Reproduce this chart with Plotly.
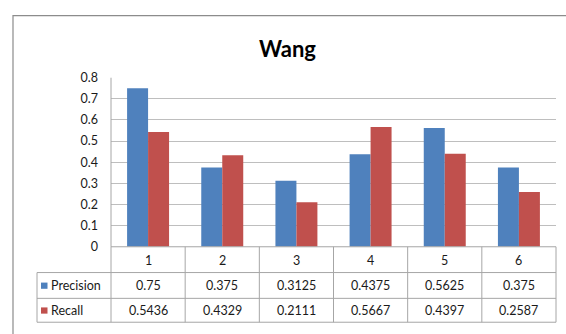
import plotly.graph_objects as go

# Data
categories = ["1", "2", "3", "4", "5", "6"]
precision = [0.75, 0.375, 0.3125, 0.4375, 0.5625, 0.375]
recall = [0.5436, 0.4329, 0.2111, 0.5667, 0.4397, 0.2587]
series_names = ["Precision", "Recall"]
y_ticks = [0, 0.1, 0.2, 0.3, 0.4, 0.5, 0.6, 0.7, 0.8]

W, H = 566, 334
BLUE = "#4F81BD"
RED = "#C0504D"
GRID = "#BEBEBE"
BORDER = "#A6A6A6"
FONT = "Lato, Carlito, 'Open Sans', sans-serif"
TXT = "#1a1a1a"

# Pixel layout of the plot region and the data table below it
px_left, px_right = 111, 556
px_top, px_zero = 73, 250
row_lines = [250, 277, 304, 329]
legend_left = 37


def fx(px):
    return px / W


def fy(py):
    return 1 - py / H


fig = go.Figure()
fig.add_trace(go.Bar(x=categories, y=precision, name=series_names[0],
                     marker=dict(color=BLUE, line=dict(width=0))))
fig.add_trace(go.Bar(x=categories, y=recall, name=series_names[1],
                     marker=dict(color=RED, line=dict(width=0))))

shapes = []
# Outer chart frame
shapes.append(dict(type="rect", xref="paper", yref="paper",
                   x0=fx(13), x1=fx(W + 20), y0=fy(H + 20), y1=fy(8),
                   line=dict(color="#8C8C8C", width=1.2), fillcolor="rgba(0,0,0,0)"))

ncat = len(categories)
col_w = (px_right - px_left) / ncat
col_edges = [px_left + i * col_w for i in range(ncat + 1)]

line_style = dict(color=BORDER, width=1)
# Horizontal table lines
shapes.append(dict(type="line", xref="paper", yref="paper",
                   x0=fx(px_left), x1=fx(px_right), y0=fy(row_lines[0]), y1=fy(row_lines[0]),
                   line=line_style))
for r in row_lines[1:]:
    shapes.append(dict(type="line", xref="paper", yref="paper",
                       x0=fx(legend_left), x1=fx(px_right), y0=fy(r), y1=fy(r),
                       line=line_style))
# Vertical table lines
shapes.append(dict(type="line", xref="paper", yref="paper",
                   x0=fx(legend_left), x1=fx(legend_left), y0=fy(row_lines[1]), y1=fy(row_lines[3]),
                   line=line_style))
for e in col_edges:
    shapes.append(dict(type="line", xref="paper", yref="paper",
                       x0=fx(e), x1=fx(e), y0=fy(row_lines[0]), y1=fy(row_lines[3]),
                       line=line_style))
# Value axis line
shapes.append(dict(type="line", xref="paper", yref="paper",
                   x0=fx(px_left), x1=fx(px_left), y0=fy(px_top), y1=fy(px_zero),
                   line=line_style))

annotations = []
font_cell = dict(family=FONT, size=12.5, color=TXT)
# Header row with category labels
for i, c in enumerate(categories):
    cx = (col_edges[i] + col_edges[i + 1]) / 2
    annotations.append(dict(xref="paper", yref="paper", x=fx(cx),
                            y=fy((row_lines[0] + row_lines[1]) / 2 + 1),
                            text=c, showarrow=False, font=font_cell,
                            xanchor="center", yanchor="middle"))

# Value rows with legend keys
rows = [(series_names[0], precision, BLUE), (series_names[1], recall, RED)]
for k, (name, vals, col) in enumerate(rows):
    y0, y1 = row_lines[k + 1], row_lines[k + 2]
    ym = (y0 + y1) / 2
    shapes.append(dict(type="rect", xref="paper", yref="paper",
                       x0=fx(41), x1=fx(47.5), y0=fy(ym + 3.5), y1=fy(ym - 3),
                       line=dict(width=0), fillcolor=col))
    annotations.append(dict(xref="paper", yref="paper", x=fx(48.5), y=fy(ym),
                            text=name, showarrow=False, font=font_cell,
                            xanchor="left", yanchor="middle"))
    for i, v in enumerate(vals):
        cx = (col_edges[i] + col_edges[i + 1]) / 2
        annotations.append(dict(xref="paper", yref="paper", x=fx(cx), y=fy(ym),
                                text=f"{v:g}", showarrow=False, font=font_cell,
                                xanchor="center", yanchor="middle"))

# Chart title
annotations.append(dict(xref="paper", yref="paper", x=fx(287), y=fy(42),
                        text="<b>Wang</b>", showarrow=False,
                        font=dict(family=FONT, size=22, color="#000000"),
                        xanchor="center", yanchor="middle"))

fig.update_layout(
    width=W, height=H,
    margin=dict(l=0, r=0, t=0, b=0),
    paper_bgcolor="white", plot_bgcolor="white",
    showlegend=False,
    barmode="group", bargap=0.434, bargroupgap=0,
    xaxis=dict(domain=[fx(px_left), fx(px_right)], showticklabels=False,
               showgrid=False, zeroline=False, showline=False, ticks=""),
    yaxis=dict(domain=[fy(px_zero), fy(px_top)], range=[0, 0.8],
               tickvals=y_ticks, ticktext=[f"{t:g}" for t in y_ticks],
               showgrid=True, gridcolor=GRID, gridwidth=1,
               zeroline=False, showline=False, ticks="",
               ticklabelstandoff=12,
               tickfont=dict(family=FONT, size=12.5, color=TXT)),
    shapes=shapes,
    annotations=annotations,
    font=dict(family=FONT),
)

fig.write_html("out.html")
